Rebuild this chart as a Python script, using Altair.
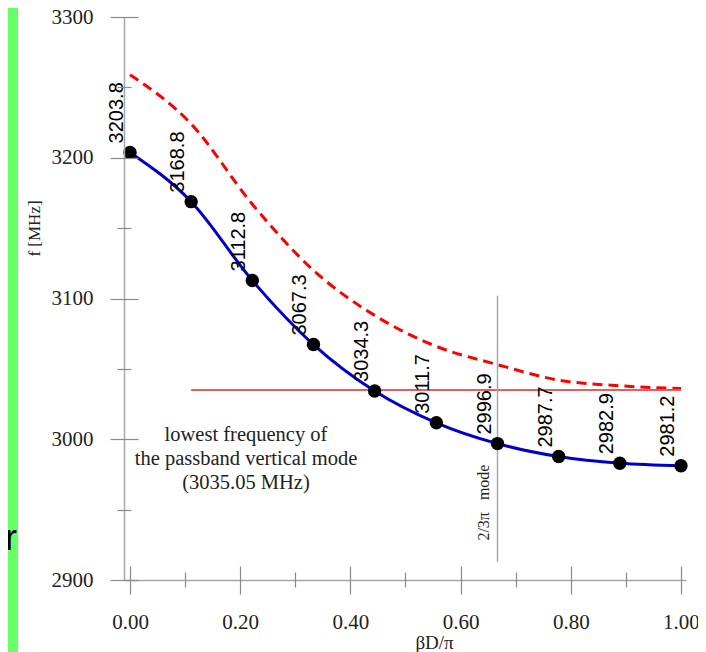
import altair as alt
import pandas as pd

# ---- data ----
beta = [0.0, 0.111, 0.222, 0.333, 0.444, 0.556, 0.667, 0.778, 0.889, 1.0]
freq = [3203.8, 3168.8, 3112.8, 3067.3, 3034.3, 3011.7, 2996.9, 2987.7, 2982.9, 2981.2]
upper = [3259, 3224, 3167, 3120, 3088, 3066, 3053, 3042, 3038, 3036]

x_major = [0.0, 0.2, 0.4, 0.6, 0.8, 1.0]
x_minor = [0.1, 0.3, 0.5, 0.7, 0.9]
y_major = [2900, 3000, 3100, 3200, 3300]
y_minor = [2950, 3050, 3150, 3250]

passband_f = 3035.05
passband_x = [0.111, 1.0]
mode_x = 0.667
mode_f = [2913, 3102]
note_lines = ["lowest frequency of", "the passband vertical mode", "(3035.05 MHz)"]
note_pos = (0.2105, 3003)
mode_label = "2/3\u03c0\u00a0\u00a0\u00a0mode"
mode_label_f = 2955

df = pd.DataFrame({"beta": beta, "f": freq, "upper": upper})
one = pd.DataFrame({"k": [0]})

XS = alt.Scale(domain=[-0.0109, 1.0091], nice=False, zero=False)
YS = alt.Scale(domain=[2900, 3300], nice=False, zero=False)

GRAY_TICK = "#8a8a8a"
GRAY_DOM = "#a8a8a8"
SERIF = "Liberation Serif"
SANS = "Liberation Sans"

ax_x_major = alt.Axis(orient="bottom", offset=-14, values=x_major, format=".2f",
                      tickSize=28, tickWidth=1.2, tickColor=GRAY_TICK, domain=False,
                      grid=False, labelFont=SERIF, labelFontSize=21, labelColor="#222222",
                      labelPadding=17, labelFlush=False, labelOverlap=False, title=None,
                      zindex=1)
ax_y_major = alt.Axis(orient="left", offset=-14, values=y_major, format="d",
                      tickSize=28, tickWidth=1.2, tickColor=GRAY_TICK, domain=False,
                      grid=False, labelFont=SERIF, labelFontSize=21, labelColor="#222222",
                      labelPadding=17, labelFlush=False, labelOverlap=False, title=None,
                      zindex=1)
ax_x_minor = alt.Axis(orient="bottom", offset=-8, values=x_minor, tickSize=15,
                      tickWidth=1.2, tickColor=GRAY_TICK, domain=False, labels=False,
                      grid=False, title=None, zindex=1)
ax_y_minor = alt.Axis(orient="left", offset=-7, values=y_minor, tickSize=14,
                      tickWidth=1.2, tickColor=GRAY_TICK, domain=False, labels=False,
                      grid=False, title=None, zindex=1)
ax_x_dom = alt.Axis(orient="bottom", offset=0, ticks=False, labels=False, domain=True,
                    domainColor=GRAY_DOM, domainWidth=1.5, grid=False,
                    title="\u03b2D/\u03c0", titleFont=SERIF, titleFontSize=19,
                    titleFontWeight="normal", titleColor="#222222",
                    titleX=310, titleY=62, titleAlign="center", titleBaseline="middle",
                    zindex=1)
ax_y_dom = alt.Axis(orient="left", offset=0, ticks=False, labels=False, domain=True,
                    domainColor=GRAY_DOM, domainWidth=1.5, grid=False,
                    title="f [MHz]", titleFont=SERIF, titleFontSize=17,
                    titleFontWeight="normal", titleColor="#222222", titleAngle=270,
                    titleX=-90, titleY=211, titleAlign="center", titleBaseline="middle",
                    zindex=1)

base = alt.Chart(df)

bg = alt.Chart(one).mark_rect(color="white").encode(
    x=alt.value(-106), x2=alt.value(620), y=alt.value(-30), y2=alt.value(700))

ar_text = alt.Chart(one).mark_text(text="ar", align="right", baseline="alphabetic",
                                   fontSize=36, font=SANS, color="black").encode(
    x=alt.value(-107), y=alt.value(533))

dashed = base.mark_line(color="#ff0000", strokeWidth=3, strokeDash=[10, 6],
                        interpolate="monotone").encode(
    x=alt.X("beta:Q", scale=XS, axis=ax_x_dom),
    y=alt.Y("upper:Q", scale=YS, axis=ax_y_dom))

blue = base.mark_line(color="#0000cc", strokeWidth=3, interpolate="monotone").encode(
    x=alt.X("beta:Q", scale=XS, axis=ax_x_major),
    y=alt.Y("f:Q", scale=YS, axis=ax_y_major))

hline = alt.Chart(one).mark_rule(color="#e06060", strokeWidth=2).encode(
    x=alt.XDatum(passband_x[0], scale=XS, axis=None),
    x2=alt.X2Datum(passband_x[1]),
    y=alt.YDatum(passband_f, scale=YS, axis=None))

vline = alt.Chart(one).mark_rule(color=GRAY_DOM, strokeWidth=1.5).encode(
    x=alt.XDatum(mode_x, scale=XS, axis=None),
    y=alt.YDatum(mode_f[0], scale=YS, axis=None),
    y2=alt.Y2Datum(mode_f[1]))

note = alt.Chart(one).mark_text(text=note_lines, align="center", baseline="middle",
                                lineHeight=24, font=SERIF, fontSize=20.5,
                                color="#222222").encode(
    x=alt.XDatum(note_pos[0], scale=XS, axis=None),
    y=alt.YDatum(note_pos[1], scale=YS, axis=None))

mode_txt = alt.Chart(one).mark_text(text=mode_label, angle=270, align="center",
                                    baseline="middle", dy=-14, font=SERIF, fontSize=16,
                                    color="#222222").encode(
    x=alt.XDatum(mode_x, scale=XS, axis=None),
    y=alt.YDatum(mode_label_f, scale=YS, axis=None))

points = base.mark_circle(color="black", size=180, opacity=1).encode(
    x=alt.X("beta:Q", scale=XS, axis=ax_x_minor),
    y=alt.Y("f:Q", scale=YS, axis=ax_y_minor))

labels = base.mark_text(angle=270, align="left", baseline="middle", dx=9, dy=-13,
                        font=SANS, fontSize=20, color="black").encode(
    x=alt.X("beta:Q", scale=XS, axis=None),
    y=alt.Y("f:Q", scale=YS, axis=None),
    text=alt.Text("f:Q", format=".1f"))

chart = alt.layer(bg, ar_text, dashed, blue, hline, vline, note, mode_txt, points, labels
                  ).resolve_axis(x="independent", y="independent").properties(
    width=562, height=563,
    autosize=alt.AutoSizeParams(type="none"),
    padding={"left": 116, "top": 9, "right": 12, "bottom": 72},
    background="#66ff66",
).configure_view(strokeWidth=0).configure_axis(grid=False)

chart.save("out.html", embed_options={"renderer": "svg", "actions": False})
